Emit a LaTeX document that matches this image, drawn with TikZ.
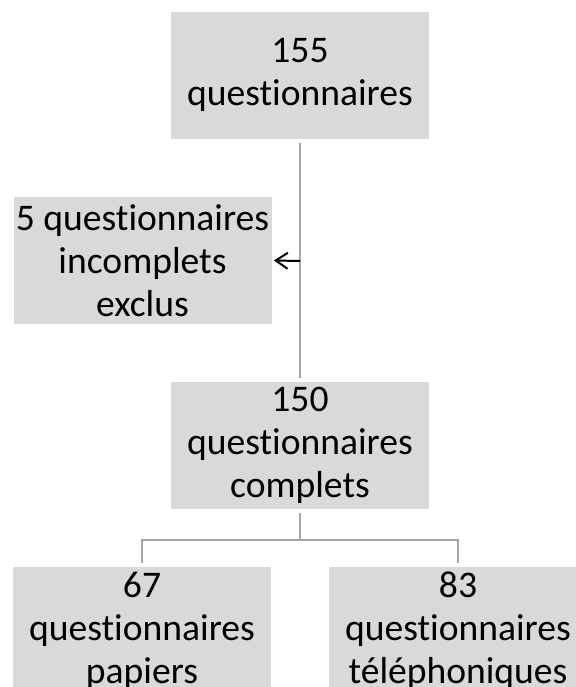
\documentclass[tikz,border=0pt]{standalone}
\usepackage{fontspec}
\setmainfont[Ligatures=NoCommon]{Carlito}
\usetikzlibrary{positioning}
\usetikzlibrary{arrows.meta}
\definecolor{box-grey}{RGB}{217,217,217}
\definecolor{line-grey}{RGB}{166,166,166}

\begin{document}
\begin{tikzpicture}[x=0.5pt, y=-0.5pt, >={Straight Barb[length=6pt,width=8pt]},
  stage/.style={fill=box-grey, minimum width=129pt, minimum height=63.5pt,
    inner sep=0pt, align=center, font=\fontsize{18.8}{21.5}\selectfont},
  link/.style={line-grey, line width=1.3pt}]

\useasboundingbox (0,0) rectangle (575,687);

% boxes
\node [stage](n155) at (300,75) {155\\questionnaires};
\node [stage](excl) at (142.5,260.5) {5 questionnaires\\incomplets\\exclus};
\node [stage](n150) at (300,445.5) {150\\questionnaires\\complets};
\node [stage](paper) at (142,630.5) {67\\questionnaires\\papiers};
\node [stage](phone) at (458,630.5) {83\\questionnaires\\téléphoniques};

% main line and exclusion arrow
\draw [link] ([yshift=-2.25pt]n155.south) -- ([yshift=2pt]n150.north);
\coordinate (split) at (300,261);
\draw [->, line width=1pt] (split) -- ([xshift=1pt]excl.east);

% split into the two groups
\coordinate (fork) at (300,540);
\draw [link] ([yshift=-2pt]n150.south) -- (fork);
\draw [link] ([yshift=2pt]paper.north) |- (fork) -| ([yshift=2pt]phone.north);

\end{tikzpicture}
\end{document}
